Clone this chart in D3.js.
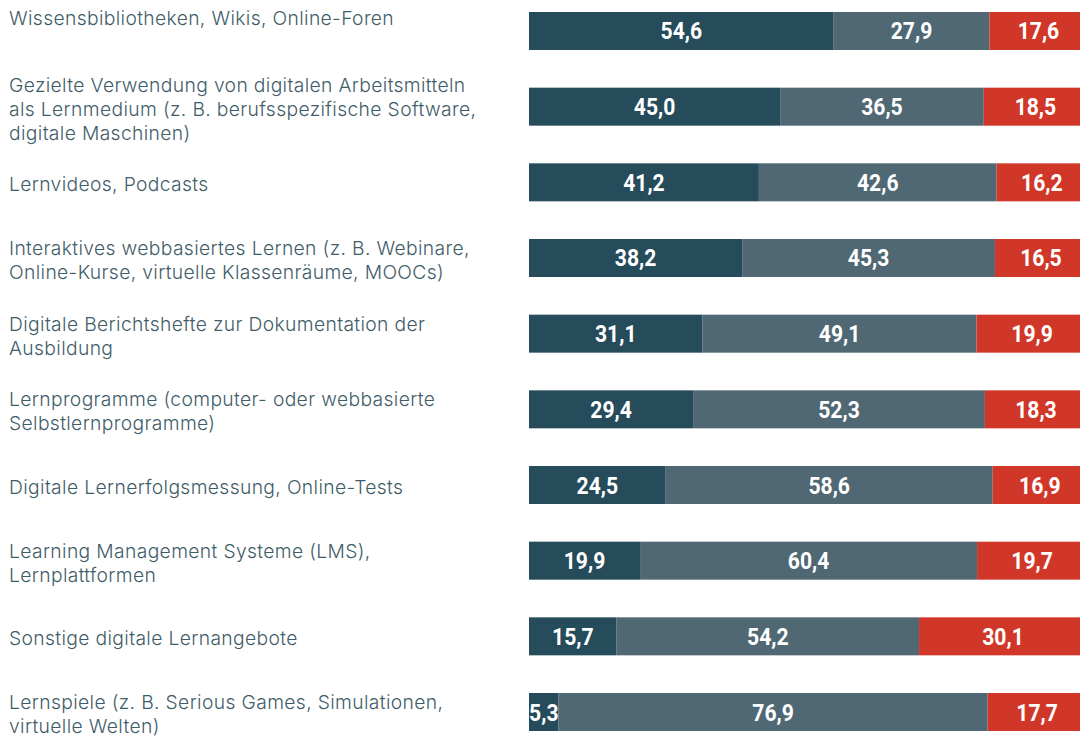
<!DOCTYPE html>
<html>
<head>
<meta charset="utf-8">
<script src="https://cdn.jsdelivr.net/npm/d3@7"></script>
<style>
  html, body { margin: 0; padding: 0; background: #ffffff; }
  svg { display: block; }
</style>
</head>
<body>
<svg id="chart" width="1080" height="740"></svg>
<script>
const categories = [
  "Wissensbibliotheken, Wikis, Online-Foren",
  "Gezielte Verwendung von digitalen Arbeitsmitteln\nals Lernmedium (z. B. berufsspezifische Software,\ndigitale Maschinen)",
  "Lernvideos, Podcasts",
  "Interaktives webbasiertes Lernen (z. B. Webinare,\nOnline-Kurse, virtuelle Klassenräume, MOOCs)",
  "Digitale Berichtshefte zur Dokumentation der\nAusbildung",
  "Lernprogramme (computer- oder webbasierte\nSelbstlernprogramme)",
  "Digitale Lernerfolgsmessung, Online-Tests",
  "Learning Management Systeme (LMS),\nLernplattformen",
  "Sonstige digitale Lernangebote",
  "Lernspiele (z. B. Serious Games, Simulationen,\nvirtuelle Welten)"
];
const series1 = [54.6, 45.0, 41.2, 38.2, 31.1, 29.4, 24.5, 19.9, 15.7, 5.3];
const series2 = [27.9, 36.5, 42.6, 45.3, 49.1, 52.3, 58.6, 60.4, 54.2, 76.9];
const series3 = [17.6, 18.5, 16.2, 16.5, 19.9, 18.3, 16.9, 19.7, 30.1, 17.7];
const seriesKeys = ["s1", "s2", "s3"];
const colors = ["#264b5a", "#4f6874", "#d13728"];

const svg = d3.select("#chart");
const rows = categories.map((c, i) => ({cat: c, s1: series1[i], s2: series2[i], s3: series3[i]}));

const x = d3.scaleLinear().domain([0, 100]).range([529, 1087]);
const y = d3.scaleBand().domain(categories).range([12, 731]).paddingInner(0.4978).paddingOuter(0);

const stack = d3.stack().keys(seriesKeys)(rows);
const fmt = v => d3.format(".1f")(v).replace(".", ",");

const layers = svg.append("g").selectAll("g").data(stack).join("g")
  .attr("fill", (d, i) => colors[i]);

layers.selectAll("rect").data(d => d).join("rect")
  .attr("x", d => x(d[0]))
  .attr("y", d => y(d.data.cat))
  .attr("width", d => x(d[1]) - x(d[0]))
  .attr("height", y.bandwidth());

const valG = svg.append("g");
stack.forEach((layer) => {
  layer.forEach(d => {
    const cx = (x(d[0]) + x(d[1])) / 2;
    const cy = y(d.data.cat) + y.bandwidth() / 2;
    valG.append("text")
      .attr("transform", `translate(${cx},${cy + 8.5}) scale(0.88,1)`)
      .attr("text-anchor", "middle")
      .attr("font-family", "Roboto, sans-serif")
      .attr("font-weight", 700)
      .attr("font-size", 24)
      .attr("fill", "#ffffff")
      .text(fmt(d[1] - d[0]));
  });
});

// category labels
const lineH = 24;
const labG = svg.append("g");
categories.forEach((c, i) => {
  const lines = c.split("\n");
  const cy = y(c) + y.bandwidth() / 2 + 3;
  let top = cy - lines.length * lineH / 2;
  if (i === 0) top = y(c) - 5;
  lines.forEach((ln, k) => {
    labG.append("text")
      .attr("font-family", "Inter, sans-serif")
      .attr("font-size", 19.3)
      .attr("font-weight", 300)
      .attr("letter-spacing", 0.35)
      .attr("fill", "#3f5d69")
      .attr("x", 9)
      .attr("y", top + k * lineH + 18)
      .text(ln);
  });
});
</script>
</body>
</html>
